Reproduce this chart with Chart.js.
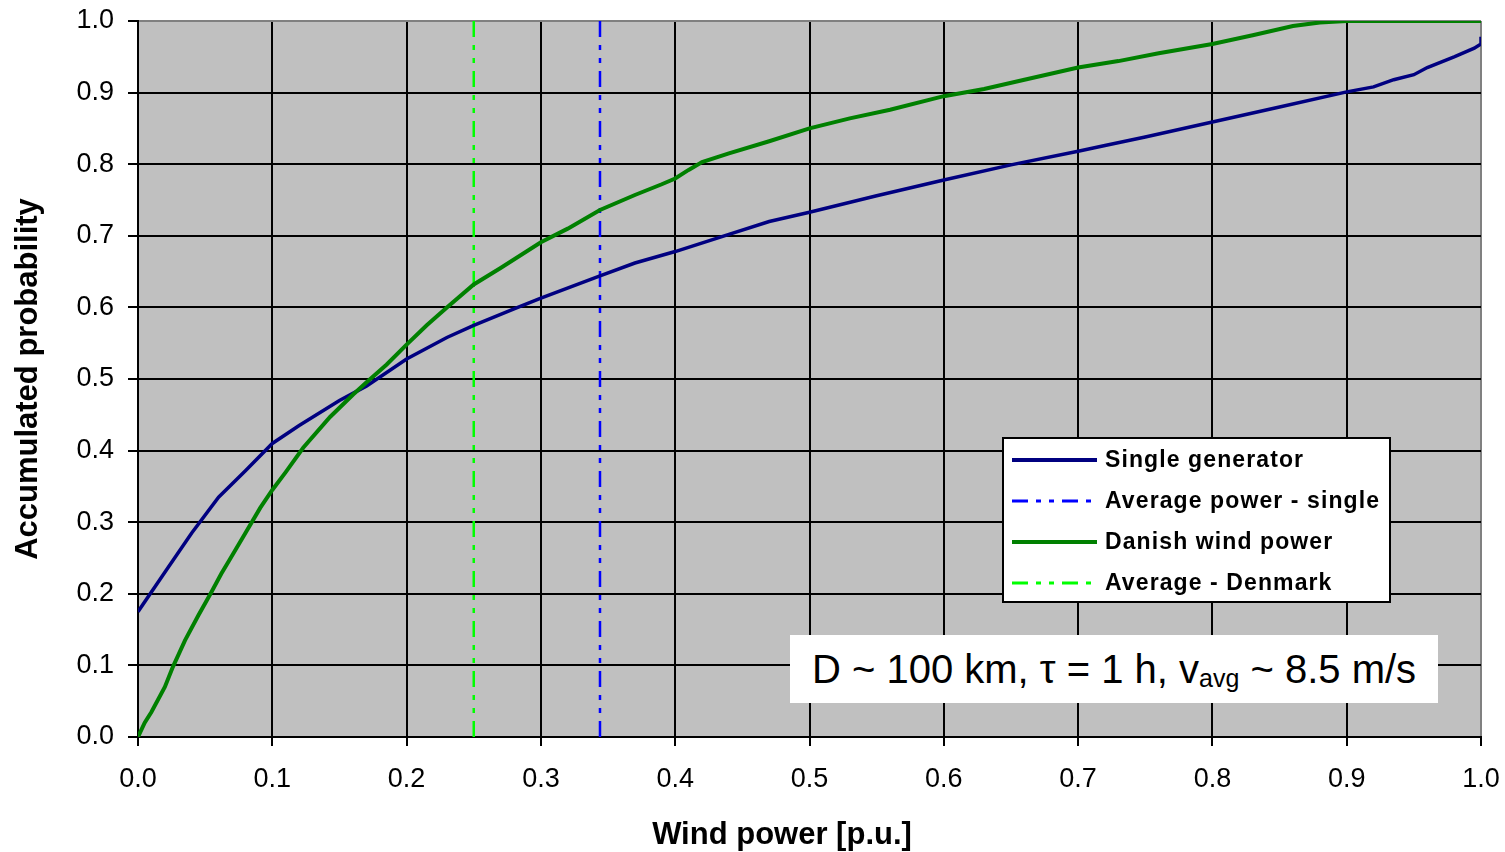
<!DOCTYPE html>
<html>
<head>
<meta charset="utf-8">
<script src="https://cdn.jsdelivr.net/npm/chart.js@4/dist/chart.umd.min.js"></script>
<style>
  body { margin: 0; background: #fff; }
  #wrap { position: relative; width: 1505px; height: 852px; }
  #note {
    position: absolute; left: 790px; top: 635px; width: 648px; height: 68px;
    background: #fff; font-family: "Liberation Sans", Arial, sans-serif;
    font-size: 40px; line-height: 68px; text-align: center; color: #000;
  }
  #note sub { font-size: 25px; vertical-align: -4px; }
</style>
</head>
<body>
<div id="wrap">
  <canvas id="cdf" width="1505" height="852"></canvas>
  <div id="note">D ~ 100 km, τ = 1 h, v<sub>avg</sub> ~ 8.5 m/s</div>
</div>
<script>
// single generator curve
const singleX = [0, 0.02, 0.04, 0.06, 0.08, 0.1, 0.12, 0.15, 0.17, 0.2, 0.23, 0.25, 0.28, 0.3, 0.344, 0.37, 0.4, 0.44, 0.47, 0.5, 0.55, 0.6, 0.65, 0.7, 0.72, 0.75, 0.8, 0.85, 0.9, 0.92, 0.935, 0.95, 0.96, 0.98, 0.995, 1.0, 1.0]
const singleY = [0.175, 0.23, 0.285, 0.335, 0.372, 0.41, 0.435, 0.47, 0.49, 0.528, 0.558, 0.575, 0.598, 0.613, 0.644, 0.662, 0.678, 0.702, 0.72, 0.733, 0.756, 0.778, 0.799, 0.818, 0.826, 0.838, 0.859, 0.88, 0.901, 0.908, 0.918, 0.925, 0.935, 0.95, 0.962, 0.968, 0.978]

// danish wind power curve
const danishX = [0, 0.005, 0.01, 0.02, 0.026, 0.035, 0.045, 0.054, 0.062, 0.068, 0.08, 0.091, 0.1, 0.11, 0.123, 0.143, 0.16, 0.17, 0.185, 0.2, 0.215, 0.23, 0.25, 0.27, 0.3, 0.32, 0.344, 0.37, 0.39, 0.4, 0.41, 0.42, 0.44, 0.47, 0.5, 0.53, 0.56, 0.6, 0.63, 0.66, 0.7, 0.73, 0.76, 0.8, 0.83, 0.86, 0.88, 0.9, 1.0]
const danishY = [0, 0.02, 0.035, 0.07, 0.098, 0.135, 0.17, 0.2, 0.228, 0.247, 0.285, 0.32, 0.345, 0.37, 0.404, 0.447, 0.478, 0.495, 0.52, 0.548, 0.575, 0.6, 0.632, 0.655, 0.691, 0.71, 0.736, 0.757, 0.772, 0.78, 0.792, 0.803, 0.815, 0.832, 0.85, 0.864, 0.876, 0.895, 0.905, 0.918, 0.935, 0.944, 0.955, 0.968, 0.98, 0.993, 0.998, 1.0, 1.0]

const avgSingle = 0.344
const avgDenmark = 0.25

const labels = ["Single generator", "Average power - single", "Danish wind power", "Average - Denmark"]
const tickLabels = ["0.0", "0.1", "0.2", "0.3", "0.4", "0.5", "0.6", "0.7", "0.8", "0.9", "1.0"]
const xTitle = "Wind power [p.u.]"

const FONT = '"Liberation Sans", Arial, sans-serif'
const dashDot = [16, 8, 5, 8, 5, 8]

function pts(xs, ys){
    let res = []
    for (let i = 0; i < xs.length; i++){
        res.push({x: xs[i], y: ys[i]})
    }
    return res
}

// grey plot background
const plotBg = {
    id: 'plotBg',
    beforeDraw(chart){
        let a = chart.chartArea
        let ctx = chart.ctx
        ctx.save()
        ctx.fillStyle = '#c0c0c0'
        ctx.fillRect(a.left, a.top, a.right - a.left, a.bottom - a.top)
        ctx.restore()
    }
}

// legend box inside plot, plus the x title (sits a bit left of the plot centre)
const boxLegend = {
    id: 'boxLegend',
    afterDatasetsDraw(chart){
        let ctx = chart.ctx
        let x0 = 1003, y0 = 438, w = 387, h = 164
        ctx.save()
        ctx.fillStyle = '#fff'
        ctx.fillRect(x0, y0, w, h)
        ctx.strokeStyle = '#000'
        ctx.lineWidth = 2
        ctx.strokeRect(x0, y0, w, h)
        chart.data.datasets.forEach(function(ds, i){
            let cy = y0 + 22 + i * 41
            ctx.beginPath()
            ctx.setLineDash(ds.borderDash || [])
            ctx.strokeStyle = ds.borderColor
            ctx.lineWidth = ds.borderDash ? 3 : 4
            ctx.moveTo(x0 + 9, cy)
            ctx.lineTo(x0 + 94, cy)
            ctx.stroke()
            ctx.setLineDash([])
            ctx.fillStyle = '#000'
            ctx.font = 'bold 23px ' + FONT
            ctx.letterSpacing = '1.1px'
            ctx.textBaseline = 'middle'
            ctx.fillText(ds.label, x0 + 102, cy + 1)
        })
        ctx.letterSpacing = '0px'
        ctx.font = 'bold 31px ' + FONT
        ctx.textAlign = 'center'
        ctx.textBaseline = 'middle'
        ctx.fillText(xTitle, 782, 835)
        ctx.restore()
    }
}

function edgeColor(c){
    return c.tick && c.tick.value === 1 ? '#808080' : '#000'
}

// drop the label overflow padding so the plot box stays where the layout puts it
function noPad(s){
    s.paddingTop = 0
    s.paddingBottom = 0
    s.paddingLeft = 0
    s.paddingRight = 0
}

let ctxEl = document.getElementById("cdf")
let myChart = new Chart(ctxEl, {
    type: 'line',
    data: {
        datasets: [{
            label: labels[0],
            data: pts(singleX, singleY),
            borderColor: '#000080',
            borderWidth: 3.5,
            pointRadius: 0,
            order: 1
        }, {
            label: labels[1],
            data: pts([avgSingle, avgSingle], [0, 1]),
            borderColor: '#0000ff',
            borderWidth: 2.5,
            borderDash: dashDot,
            pointRadius: 0,
            order: 3
        }, {
            label: labels[2],
            data: pts(danishX, danishY),
            borderColor: '#008000',
            borderWidth: 4,
            pointRadius: 0,
            order: 0
        }, {
            label: labels[3],
            data: pts([avgDenmark, avgDenmark], [0, 1]),
            borderColor: '#00ff00',
            borderWidth: 2.5,
            borderDash: dashDot,
            pointRadius: 0,
            order: 2
        }]
    },
    options: {
        responsive: false,
        devicePixelRatio: 1,
        animation: false,
        layout: {
            padding: {top: 21, right: 24, left: 0, bottom: 0}
        },
        plugins: {
            legend: {display: false},
            tooltip: {enabled: false}
        },
        scales: {
            x: {
                type: 'linear',
                min: 0,
                max: 1,
                afterFit(s){ s.height = 115; noPad(s) },
                afterBuildTicks(s){
                    s.ticks = tickLabels.map(function(t){ return {value: parseFloat(t)} })
                },
                ticks: {
                    color: '#000',
                    font: {family: FONT, size: 27},
                    padding: 17,
                    maxRotation: 0,
                    autoSkip: false,
                    callback: function(v, i){ return tickLabels[i] }
                },
                grid: {
                    color: edgeColor,
                    lineWidth: 2,
                    tickLength: 9,
                    tickColor: '#000'
                },
                border: {color: '#000', width: 2}
            },
            y: {
                min: 0,
                max: 1,
                afterFit(s){ s.width = 138; noPad(s) },
                afterBuildTicks(s){
                    s.ticks = tickLabels.map(function(t){ return {value: parseFloat(t)} })
                },
                ticks: {
                    color: '#000',
                    font: {family: FONT, size: 27},
                    padding: 14,
                    autoSkip: false,
                    callback: function(v, i){ return tickLabels[i] }
                },
                grid: {
                    color: edgeColor,
                    lineWidth: 2,
                    tickLength: 10,
                    tickColor: '#000'
                },
                border: {color: '#000', width: 2},
                title: {
                    display: true,
                    text: 'Accumulated probability',
                    color: '#000',
                    font: {family: FONT, size: 31, weight: 'bold'},
                    padding: {top: 10, bottom: 0}
                }
            }
        }
    },
    plugins: [plotBg, boxLegend]
})
</script>
</body>
</html>
